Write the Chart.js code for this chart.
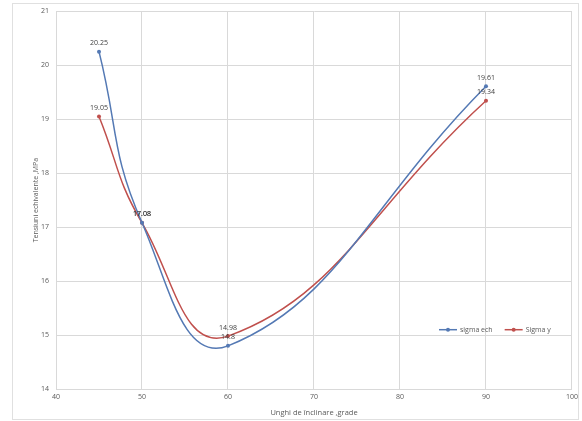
<!DOCTYPE html>
<html>
<head>
<meta charset="utf-8">
<script src="https://cdn.jsdelivr.net/npm/chart.js@4.4.1/dist/chart.umd.min.js"></script>
<style>
  html, body { margin: 0; padding: 0; background: #fff; }
  #wrap { position: relative; width: 582px; height: 421px; }
</style>
</head>
<body>
<div id="wrap"><canvas id="c" width="582" height="421"></canvas></div>
<script>
// angles (deg) and the two stress series (MPa)
const angles = [45, 50, 60, 90];
const sigmaEch = [20.25, 17.08, 14.8, 19.61];
const sigmaY = [19.05, 17.08, 14.98, 19.34];
const seriesNames = ['sigma ech', 'Sigma y'];
const colors = ['#5479b4', '#c0504d'];

const FONT = "'Open Sans', 'DejaVu Sans', sans-serif";
const pts = (ys) => angles.map((x, i) => ({ x, y: ys[i] }));

// value labels above each point, like the excel data labels
const dataLabels = {
  id: 'dataLabels',
  afterDatasetsDraw(chart) {
    const { ctx } = chart;
    ctx.save(); ctx.font = '7px ' + FONT; ctx.fillStyle = '#404040'; ctx.textAlign = 'center'; ctx.textBaseline = 'bottom';
    chart.data.datasets.forEach((ds, di) => {
      chart.getDatasetMeta(di).data.forEach((p, i) => ctx.fillText(String(ds.data[i].y), p.x, p.y - 5));
    });
    ctx.restore();
  },
};

// legend inside the plot + outer frame
const frame = {
  id: 'frame',
  afterDraw(chart) {
    const { ctx, chartArea: a } = chart;
    ctx.save();
    ctx.strokeStyle = '#e0e0e0'; ctx.lineWidth = 1;
    ctx.strokeRect(12.5, 3.5, 566, 416);
    ctx.font = '7px ' + FONT; ctx.textBaseline = 'middle'; ctx.fillStyle = '#595959';
    let x = a.right - 133, y = a.top + 318.5;
    chart.data.datasets.forEach((ds, i) => {
      ctx.strokeStyle = colors[i]; ctx.lineWidth = 1.5;
      ctx.beginPath(); ctx.moveTo(x, y); ctx.lineTo(x + 18, y); ctx.stroke();
      ctx.fillStyle = colors[i]; ctx.beginPath(); ctx.arc(x + 9, y, 2, 0, Math.PI * 2); ctx.fill();
      ctx.fillStyle = '#595959'; ctx.textAlign = 'left';
      ctx.fillText(ds.label, x + 21, y);
      x += 21 + ctx.measureText(ds.label).width + 12;
    });
    ctx.restore();
  },
};

new Chart(document.getElementById('c'), {
  type: 'line',
  data: {
    datasets: [
      { label: seriesNames[0], data: pts(sigmaEch), borderColor: colors[0], backgroundColor: colors[0] },
      { label: seriesNames[1], data: pts(sigmaY), borderColor: colors[1], backgroundColor: colors[1] },
    ],
  },
  options: {
    responsive: false, animation: false,
    layout: { padding: { left: 28, right: 9, top: 10, bottom: 0 } },
    elements: {
      line: { tension: 0.45, borderWidth: 1.5, cubicInterpolationMode: 'default' },
      point: { radius: 2, borderWidth: 0, hoverRadius: 2 },
    },
    scales: {
      x: {
        type: 'linear', min: 40, max: 100,
        ticks: { stepSize: 10, color: '#595959', font: { size: 7, family: FONT }, padding: 4 },
        grid: { color: '#d9d9d9', drawTicks: false },
        border: { color: '#d9d9d9' },
        title: { display: true, text: 'Unghi de înclinare ,grade', color: '#595959', font: { size: 7.5, family: FONT }, padding: { top: 5 } },
        afterFit: (s) => { s.height = 32; },
      },
      y: {
        min: 14, max: 21,
        ticks: { stepSize: 1, color: '#595959', font: { size: 7, family: FONT }, padding: 7 },
        grid: { color: '#d9d9d9', drawTicks: false },
        border: { color: '#d9d9d9' },
        title: { display: true, text: 'Tensiuni echivalente ,MPa', color: '#595959', font: { size: 7, family: FONT }, padding: { bottom: 2 } },
        afterFit: (s) => { s.width = 28; },
      },
    },
    plugins: { legend: { display: false }, tooltip: { enabled: false } },
  },
  plugins: [dataLabels, frame],
});
</script>
</body>
</html>
